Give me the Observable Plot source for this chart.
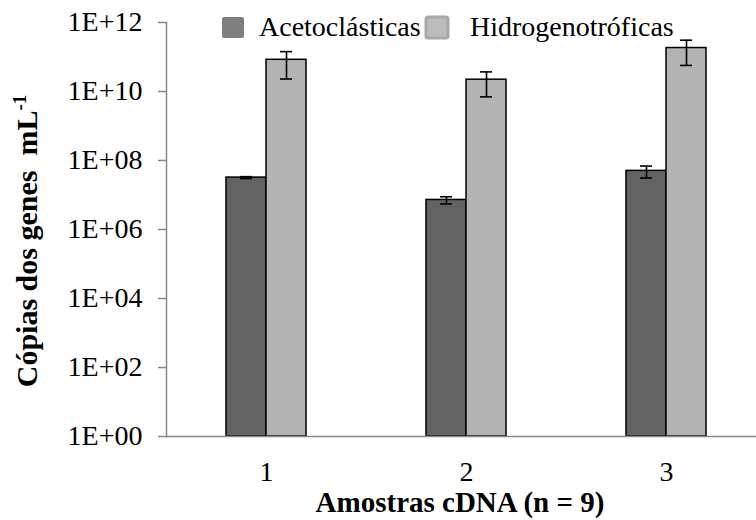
<!DOCTYPE html>
<html><head><meta charset="utf-8">
<script src="https://cdn.jsdelivr.net/npm/d3@7"></script>
<script src="https://cdn.jsdelivr.net/npm/@observablehq/plot@0.6"></script>
<style>body{margin:0;background:#fff} svg text{font-family:"Liberation Serif","Times New Roman",serif !important;}</style>
</head><body><div id="chart"></div>
<script>
const samples = ["1", "2", "3"];
const series = ["Acetoclásticas", "Hidrogenotróficas"];
const acetoMean = [3.2e7, 7.2e6, 5.0e7];
const acetoSd = [2.0e6, 1.7e6, 1.9e7];
const hidroMean = [8.3e10, 2.2e10, 1.82e11];
const hidroSd = [6.0e10, 1.5e10, 1.25e11];
const yTicks = [1, 1e2, 1e4, 1e6, 1e8, 1e10, 1e12];
const yTickLabels = ["1E+00", "1E+02", "1E+04", "1E+06", "1E+08", "1E+10", "1E+12"];
const barColors = ["#636363", "#b3b3b3"];
const legendColors = ["#7f7f7f", "#bcbcbc"];
const xTitle = "Amostras cDNA (n = 9)";
const yTitle = "Cópias dos genes\u00a0 mL";
const yTitleSup = "-1";

const rows = [];
samples.forEach((s, i) => {
  rows.push({sample: s, series: series[0], mean: acetoMean[i], sd: acetoSd[i]});
  rows.push({sample: s, series: series[1], mean: hidroMean[i], sd: hidroSd[i]});
});

const serif = "Liberation Serif";
const chart = Plot.plot({
  width: 756, height: 520,
  marginLeft: 165, marginRight: 0, marginTop: 22, marginBottom: 84,
  style: {fontFamily: "Liberation Serif", fontSize: "28px", background: "#fff", color: "#000"},
  fx: {domain: samples, range: [165, 766.5], padding: 0, label: null, axis: null},
  x: {domain: series, paddingInner: 0, paddingOuter: 1.5, axis: null},
  y: {type: "log", domain: [1, 1e12], axis: null},
  color: {domain: series, range: barColors},
  marks: [
    Plot.barY(rows, {fx: "sample", x: "series", y1: () => 1, y2: "mean", fill: "series", stroke: "#000", strokeWidth: 1.5}),
    Plot.ruleX(rows, {fx: "sample", x: "series", y1: d => d.mean - d.sd, y2: d => d.mean + d.sd, stroke: "#000", strokeWidth: 1.6}),
    Plot.tickY(rows, {fx: "sample", x: "series", y: d => d.mean + d.sd, insetLeft: 14, insetRight: 14, stroke: "#000", strokeWidth: 1.6}),
    Plot.tickY(rows, {fx: "sample", x: "series", y: d => d.mean - d.sd, insetLeft: 14, insetRight: 14, stroke: "#000", strokeWidth: 1.6}),
    Plot.ruleY([1], {stroke: "#898989", strokeWidth: 1.5}),
    Plot.axisY({ticks: yTicks, text: null, tickSize: 8, stroke: "#898989", strokeWidth: 1.5, label: null}),
    Plot.axisY({ticks: yTicks, tickFormat: d => yTickLabels[yTicks.indexOf(d)], tickSize: 0, tickPadding: 24, fontSize: 28, fontFamily: serif, fill: "#000", label: null}),
    Plot.frame({anchor: "left", facetAnchor: "left", stroke: "#898989", strokeWidth: 1.5}),
    Plot.axisFx({anchor: "bottom", tickSize: 0, tickPadding: 25, fontSize: 28, fontFamily: serif, fill: "#000", label: null})
  ]
});
document.getElementById("chart").appendChild(chart);

const svg = d3.select(chart);
// legend
const leg = svg.append("g").attr("font-family", serif).attr("font-size", 28).attr("text-anchor", "start");
const legItems = [
  {name: series[0], sx: 222, tx: 259},
  {name: series[1], sx: 426, tx: 470}
];
legItems.forEach((it, i) => {
  leg.append("rect").attr("x", it.sx).attr("y", 17).attr("width", 22).attr("height", 21).attr("rx", 2)
    .attr("fill", legendColors[i]).attr("stroke", i ? "#a8a8a8" : "none").attr("stroke-width", 3);
  leg.append("text").attr("x", it.tx).attr("y", 36).attr("text-anchor", "start").attr("fill", "#000").text(it.name);
});
// axis titles
svg.append("text").attr("x", 460).attr("y", 512).attr("text-anchor", "middle")
  .attr("font-family", serif).attr("font-size", 29).attr("font-weight", "bold").attr("fill", "#000").text(xTitle);
const yt = svg.append("text").attr("transform", "translate(37,241) rotate(-90)").attr("text-anchor", "middle")
  .attr("font-family", serif).attr("font-size", 30).attr("font-weight", "bold").attr("fill", "#000");
yt.append("tspan").text(yTitle);
yt.append("tspan").attr("font-size", 19).attr("dy", -11).text(yTitleSup);
</script>
</body></html>
